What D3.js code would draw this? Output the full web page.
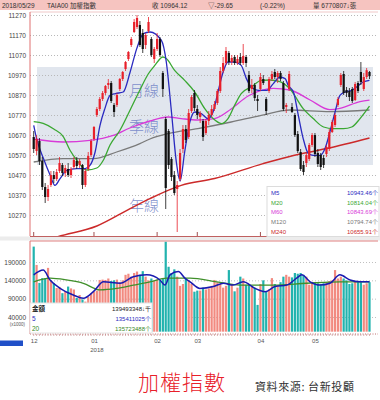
<!DOCTYPE html>
<html lang="zh-Hant">
<head>
<meta charset="UTF-8">
<script src="https://d3js.org/d3.v7.min.js"></script>
<title>加權指數</title>
<style>
  body { margin: 0; background: #fff; }
  svg { display: block; }
  text { font-family: "Liberation Sans", "Noto Sans CJK TC", sans-serif; }
  .cjk { font-family: "Noto Sans CJK TC", sans-serif; }
</style>
</head>
<body>
<div id="chart"></div>
<script>
// ---- data ----
const priceTicks = [11270, 11170, 11070, 10970, 10870, 10770, 10670, 10570, 10470, 10370, 10270];
const volTicks = [190000, 140000, 90000, 40000];
const monthStarts = [0, 21, 43, 57, 79, 98];
const monthLabels = ["12", "01", "02", "03", "04", "05"];

// daily candles 2017/12/01 .. 2018/05/29
const open = [10660,10590,10640,10540,10410,10360,10420,10470,10450,10490,10520,10480,10500,10470,10510,10540,10520,10520,10420,10500,10570,
  10650,10770,10800,10850,10880,10920,10930,10820,10820,10900,10950,11000,11050,11120,11185,11210,11220,11180,11120,11190,11150,11050,
  11100,11150,10980,10750,10690,10550,10470,10400,10450,10600,10700,10660,10790,10880,
  10800,10760,10740,10680,10740,10770,10800,10830,10890,10990,11030,11080,11035,11060,11030,11060,11030,11060,10970,10900,10920,10850,
  10900,10950,10850,10890,10950,10985,10960,10980,10930,10810,10900,10810,10770,10675,10585,10520,10530,10550,10620,
  10670,10580,10570,10555,10575,10600,10685,10720,10820,10920,10975,10895,10890,10900,10845,10930,10985,10900,10960,10985];
const high = [10690,10670,10655,10560,10430,10420,10490,10490,10500,10560,10530,10520,10530,10510,10560,10560,10550,10525,10500,10585,10650,
  10715,10810,10860,10890,10920,10950,10940,10830,10880,10955,10990,11040,11090,11160,11250,11270,11240,11200,11180,11260,11160,11110,
  11180,11160,10990,10760,10700,10560,10490,10440,10600,10720,10720,10800,10870,10895,
  10820,10790,10750,10750,10790,10820,10840,10900,11010,11060,11110,11090,11070,11070,11070,11080,11125,11070,10990,10950,10930,10870,
  10980,10970,10860,10960,10990,11000,10990,10990,10940,10830,10990,10830,10780,10690,10600,10540,10580,10630,10680,
  10680,10600,10580,10570,10620,10700,10745,10780,10860,10980,10990,10910,10905,10910,10935,10940,11035,10980,11005,10990];
const low = [10580,10570,10520,10395,10330,10340,10410,10430,10440,10480,10465,10460,10460,10455,10500,10500,10505,10400,10410,10490,10560,
  10640,10760,10790,10840,10870,10900,10830,10760,10810,10890,10940,10990,11040,11110,11180,11200,11110,11080,11100,11180,11060,11030,
  11090,11060,10860,10300,10500,10440,10370,10185,10440,10580,10630,10650,10780,10790,
  10750,10730,10640,10670,10720,10760,10790,10820,10880,10980,11020,11020,11020,11020,11020,11020,11020,11010,10880,10880,10840,10790,
  10890,10920,10770,10880,10940,10950,10930,10940,10790,10780,10890,10780,10660,10580,10490,10470,10510,10540,10610,
  10560,10510,10495,10505,10560,10590,10680,10710,10810,10910,10870,10860,10840,10830,10840,10880,10920,10890,10950,10950];
const close = [10600,10650,10540,10410,10360,10400,10470,10450,10485,10530,10480,10505,10470,10500,10545,10515,10540,10420,10490,10565,10640,
  10710,10800,10850,10880,10915,10930,10840,10785,10870,10950,10985,11035,11085,11150,11235,11255,11120,11100,11170,11235,11070,11100,
  11150,11070,10900,10405,10520,10460,10380,10420,10580,10700,10645,10780,10860,10805,
  10770,10780,10660,10740,10770,10800,10825,10890,10990,11030,11090,11035,11055,11030,11050,11030,11065,11030,10890,10920,10855,10840,
  10960,10930,10790,10950,10975,10960,10980,10950,10800,10820,10975,10785,10670,10590,10500,10485,10570,10620,10670,
  10575,10525,10510,10520,10610,10685,10735,10770,10850,10970,10880,10880,10860,10840,10925,10890,10935,10960,10994,10964.12];

// daily volume, (x1000)
const volume = [232000,182000,133000,146000,146000,174000,140000,133000,119000,122000,105000,110000,123000,118000,115000,92000,100000,88000,82000,95000,105000,
  109000,112000,141000,142000,141000,145000,138000,140000,142000,135000,140000,155000,158000,150000,160000,164000,155000,165000,150000,140000,145000,138000,
  142000,140000,145000,245000,177000,160000,170000,150000,125000,130000,145000,140000,130000,109000,
  112000,112000,120000,115000,118000,125000,141000,135000,130000,120000,125000,168000,130000,110000,120000,150000,145000,128000,130000,122000,120000,73000,
  130000,140000,110000,115000,146000,130000,125000,135000,150000,155000,150000,148000,160000,158000,160000,155000,150000,128000,135000,
  135000,132000,130000,132000,135000,138000,140000,168000,145000,150000,145000,140000,130000,132000,137000,138000,135000,128000,132000,135000];

// moving averages, [day index, value] read at points along each curve
const ma5 = [[0,10718],[1,10652],[3.4,10552],[5.7,10470],[7.4,10418],[9.2,10452],[11.5,10493],[15,10502],[17.9,10502],[19.6,10518],[21.4,10585],[23.1,10718],
  [24.8,10802],[26.6,10868],[28.5,10877],[31.2,10885],[33.6,10985],[35.9,11102],[38.2,11177],[40.5,11185],[44.5,11143],[46.2,11035],[48,10785],[49.7,10535],
  [51,10440],[52.6,10585],[54.4,10735],[56.1,10785],[58.4,10777],[60.7,10752],[62.5,10785],[64.2,10885],[66,10985],[67.7,11035],[70,11035],[72.3,11018],
  [74.1,10952],[75.8,10910],[78.2,10893],[81.2,10893],[83.5,10927],[85.8,10960],[87.6,10952],[88.7,10918],[90.5,10885],[92.2,10768],[93.9,10652],
  [95.7,10577],[97.4,10568],[99.8,10568],[101.5,10602],[103.2,10685],[105,10785],[106.7,10868],[108.5,10885],[110.8,10893],[112.5,10910],[114.8,10935],[117,10943]];
const ma20 = [[0,10737],[3.3,10728],[7,10700],[10.3,10662],[12.6,10595],[15,10545],[18.5,10495],[22,10505],[24.3,10545],[26.6,10620],[30.1,10695],[33.6,10795],
  [37,10895],[39.9,10975],[42.2,11018],[45,11060],[46.2,11052],[49.1,10993],[52.6,10943],[56.1,10885],[59.6,10802],[62.5,10752],[65.4,10727],[67.7,10752],
  [70,10818],[72.3,10877],[75.8,10910],[79.3,10943],[82.4,10945],[85.8,10937],[89.3,10900],[93.9,10802],[97.4,10752],[101,10710],[104.4,10702],[107.9,10702],
  [110.8,10710],[113.7,10752],[117,10814]];
const ma60 = [[0,10650],[10.3,10635],[19.6,10643],[27.7,10668],[33.5,10705],[40.5,10740],[46.8,10760],[51.4,10752],[57.2,10745],[63,10752],[68.8,10800],
  [74.7,10865],[79.3,10893],[83.5,10903],[89.3,10895],[96.3,10845],[103.2,10797],[106.7,10803],[113.7,10837],[117,10844]];
const ma120 = [[0,10535],[10.3,10552],[20.8,10552],[28.9,10585],[37,10627],[40.5,10650],[46.8,10677],[57.2,10702],[68.8,10735],[79.3,10768],[89.3,10795],
  [103.2,10787],[117,10795]];
const ma240 = [[0,10120],[8.1,10160],[22,10215],[33.6,10302],[40.5,10352],[51.4,10418],[63,10452],[79.9,10527],[90.5,10568],[102.1,10602],[117,10655]];

const volMa5 = [[0,155000],[3.3,168000],[5.7,141000],[9.2,118000],[13.8,100000],[17.3,91000],[20.8,109000],[24.3,136000],[30.1,132000],[34.7,150000],
  [39.4,155000],[44,141000],[45.7,127000],[47.5,155000],[50.4,164000],[52.7,146000],[54.5,136000],[57.9,118000],[62.6,123000],[66.1,132000],[69.5,127000],
  [73,136000],[77.1,118000],[80.6,109000],[84.1,123000],[88.2,127000],[91.6,146000],[93.4,155000],[96.3,136000],[99.8,127000],[103.2,132000],[106.7,155000],
  [110.2,141000],[113.7,136000],[117,136000]];
const volMa20 = [[0,136000],[5.7,146000],[11.5,141000],[17.3,132000],[23.1,114000],[28.9,118000],[34.7,127000],[40.5,136000],[46.3,146000],[54.5,146000],
  [63.8,136000],[71.9,127000],[83.5,127000],[95.1,132000],[106.7,136000],[117,136000]];

const header = ["2018/05/29", "TAIA00 加權指數", "收 10964.12", "▽-29.65", "(-0.22%)", "量 6770807↓張"];
const maNames = ["M5", "M20", "M60", "M120", "M240"];
const maValues = ["10943.46个", "10814.04个", "10843.69个", "10794.74个", "10655.91个"];
const volNames = ["金額", "5", "20"];
const volValues = ["139493348↓千", "135411025个", "135723488个"];

// ---- drawing ----
const width = 380;
const height = 400;
const RED = "#e8202a", UP_VOL = "#f28a80", DN_VOL = "#22b3ae";
const maColors = ["#2a2ac0", "#3aa832", "#d83ad8", "#7a7a7a", "#cc2a2a"];

const svg = d3.select("#chart").append("svg")
    .attr("width", width)
    .attr("height", height);

const x = d3.scaleLinear().domain([0, 117]).range([33.7, 369.5]);
const y = d3.scaleLinear().domain([10270, 11270]).range([215, 15]);
const yv = d3.scaleLinear().domain([40000, 190000]).range([317, 262]);
const days = d3.range(close.length);
const up = i => close[i] >= open[i];

// header strip
svg.append("rect").attr("x", 0).attr("y", 0).attr("width", width).attr("height", 10).attr("fill", "#f6c4c0");
const headerX = [2, 47, 152, 208, 260, 313];
svg.selectAll("text.hd").data(header).join("text")
    .attr("x", (d, i) => headerX[i]).attr("y", 7.5)
    .attr("font-size", 6.5).attr("fill", "#333")
    .text(d => d);

// clip areas
const defs = svg.append("defs");
defs.append("clipPath").attr("id", "mainClip").append("rect")
    .attr("x", 30).attr("y", 12).attr("width", 348).attr("height", 224);
defs.append("clipPath").attr("id", "volClip").append("rect")
    .attr("x", 30).attr("y", 241).attr("width", 348).attr("height", 93);

// shaded band
svg.append("rect").attr("x", 37).attr("y", 67).attr("width", 336).attr("height", 98)
    .attr("fill", "#e1e6ee");

// price grid + labels
svg.append("g")
    .attr("transform", "translate(30,0)")
    .call(d3.axisRight(y).tickValues(priceTicks).tickSize(346).tickFormat(""))
    .call(g => g.select(".domain").remove())
    .call(g => g.selectAll("line").attr("stroke", "#b8b8b8").attr("stroke-dasharray", "1,2"));
svg.append("g")
    .attr("transform", "translate(30,0)")
    .call(d3.axisLeft(y).tickValues(priceTicks).tickSize(0).tickPadding(4).tickFormat(d3.format("d")))
    .call(g => g.select(".domain").remove())
    .call(g => g.selectAll("text").attr("font-size", 6.5).attr("fill", "#444"));

// panel frames
svg.append("line").attr("x1", 30).attr("x2", 378).attr("y1", 12).attr("y2", 12).attr("stroke", "#f0c8c8");
svg.append("line").attr("x1", 30).attr("x2", 30).attr("y1", 12).attr("y2", 236).attr("stroke", "#e07070");
svg.append("rect").attr("x", 0).attr("y", 236.5).attr("width", width).attr("height", 4).attr("fill", "#ececec");
svg.append("line").attr("x1", 30).attr("x2", 378).attr("y1", 236.5).attr("y2", 236.5).attr("stroke", "#c06060");
svg.append("line").attr("x1", 30).attr("x2", 378).attr("y1", 241).attr("y2", 241).attr("stroke", "#e08080");
svg.append("line").attr("x1", 30).attr("x2", 30).attr("y1", 241).attr("y2", 334).attr("stroke", "#e07070");

// month ticks on main panel
svg.selectAll("line.mt").data(monthStarts).join("line")
    .attr("x1", d => x(d)).attr("x2", d => x(d)).attr("y1", 232).attr("y2", 236)
    .attr("stroke", "#a05050");

// annotations
const notes = [["月線", 90], ["季線", 126], ["年線", 205]];
svg.selectAll("text.note").data(notes).join("text")
    .attr("class", "cjk")
    .attr("x", 129).attr("y", d => d[1] + 6)
    .attr("font-size", 15).attr("font-weight", 300)
    .attr("fill", "#6b7cc4").attr("fill-opacity", 0.85)
    .text(d => d[0]);

// moving average lines
const maLine = d3.line().x(d => x(d[0])).y(d => y(d[1])).curve(d3.curveMonotoneX);
const main = svg.append("g").attr("clip-path", "url(#mainClip)");
[ma240, ma120, ma60, ma20, ma5].forEach((s, k) => {
    main.append("path").datum(s)
        .attr("fill", "none")
        .attr("stroke", maColors[4 - k])
        .attr("stroke-width", k === 0 ? 1.5 : 1.3)
        .attr("d", maLine);
});

// candles
main.selectAll("line.wick").data(days).join("line")
    .attr("x1", i => x(i)).attr("x2", i => x(i))
    .attr("y1", i => y(high[i])).attr("y2", i => y(low[i]))
    .attr("stroke", i => up(i) ? RED : "#111")
    .attr("stroke-width", 0.8);
main.selectAll("rect.body").data(days).join("rect")
    .attr("x", i => x(i) - 1.1).attr("width", 2.2)
    .attr("y", i => y(Math.max(open[i], close[i])))
    .attr("height", i => Math.max(1, Math.abs(y(open[i]) - y(close[i]))))
    .attr("fill", i => up(i) ? RED : "#111");

// MA legend box
const lg = svg.append("g").attr("transform", "translate(267,186.5)");
lg.append("rect").attr("width", 112).attr("height", 50).attr("fill", "#fff").attr("stroke", "#dcdcdc");
lg.selectAll("text.n").data(maNames).join("text")
    .attr("x", 4).attr("y", (d, i) => 8.5 + i * 9.7)
    .attr("font-size", 6).attr("fill", (d, i) => maColors[i]).text(d => d);
lg.selectAll("text.v").data(maValues).join("text")
    .attr("x", 111).attr("y", (d, i) => 8.5 + i * 9.7).attr("text-anchor", "end")
    .attr("font-size", 6).attr("fill", (d, i) => maColors[i]).text(d => d);

// volume grid + labels
svg.append("g")
    .attr("transform", "translate(30,0)")
    .call(d3.axisRight(yv).tickValues(volTicks).tickSize(346).tickFormat(""))
    .call(g => g.select(".domain").remove())
    .call(g => g.selectAll("line").attr("stroke", "#c0c0c0").attr("stroke-dasharray", "1,2"));
svg.append("g")
    .attr("transform", "translate(30,0)")
    .call(d3.axisLeft(yv).tickValues(volTicks).tickSize(0).tickPadding(4).tickFormat(d3.format("d")))
    .call(g => g.select(".domain").remove())
    .call(g => g.selectAll("text").attr("font-size", 6.5).attr("fill", "#444"));
svg.append("text").attr("x", 25).attr("y", 325.5).attr("text-anchor", "end")
    .attr("font-size", 4.5).attr("fill", "#555").text("(x1000)");

// volume bars
const vol = svg.append("g").attr("clip-path", "url(#volClip)");
vol.selectAll("rect").data(days).join("rect")
    .attr("x", i => x(i) - 1.1).attr("width", 2.2)
    .attr("y", i => yv(volume[i]))
    .attr("height", i => yv(0) - yv(volume[i]))
    .attr("fill", i => up(i) ? UP_VOL : DN_VOL);

const vLine = d3.line().x(d => x(d[0])).y(d => yv(d[1])).curve(d3.curveMonotoneX);
vol.append("path").datum(volMa20).attr("fill", "none").attr("stroke", "#3f8f2a").attr("stroke-width", 1.3).attr("d", vLine);
vol.append("path").datum(volMa5).attr("fill", "none").attr("stroke", "#1a1ab0").attr("stroke-width", 1.5).attr("d", vLine);

// bottom of volume panel: dotted base with day ticks
svg.append("line").attr("x1", 30).attr("x2", 378).attr("y1", 334).attr("y2", 334)
    .attr("stroke", "#c07070").attr("stroke-dasharray", "1,1.5");
svg.selectAll("line.dt").data(days).join("line")
    .attr("x1", i => x(i)).attr("x2", i => x(i)).attr("y1", 334).attr("y2", 336)
    .attr("stroke", "#c08080").attr("stroke-width", 0.6);

// volume legend
const vg = svg.append("g").attr("transform", "translate(30,303)");
vg.append("rect").attr("width", 122).attr("height", 30).attr("fill", "#fff").attr("stroke", "#e4e4e4");
const vCols = ["#222", "#2a2ac0", "#3a8a2a"];
vg.selectAll("text.n").data(volNames).join("text")
    .attr("class", (d, i) => i === 0 ? "cjk" : null)
    .attr("x", 2).attr("y", (d, i) => 7.5 + i * 10)
    .attr("font-size", 6.5).attr("font-weight", (d, i) => i === 0 ? 700 : 400)
    .attr("fill", (d, i) => vCols[i]).text(d => d);
vg.selectAll("text.v").data(volValues).join("text")
    .attr("x", 121).attr("y", (d, i) => 7.5 + i * 10).attr("text-anchor", "end")
    .attr("font-size", 6).attr("fill", (d, i) => vCols[i]).text(d => d);

// month axis
svg.append("g")
    .attr("transform", "translate(0,336)")
    .call(d3.axisBottom(x).tickValues(monthStarts).tickSize(0).tickPadding(3).tickFormat((d, i) => monthLabels[i]))
    .call(g => g.select(".domain").remove())
    .call(g => g.selectAll("text").attr("font-size", 6).attr("fill", "#555"));
svg.append("text").attr("x", x(21) + 3).attr("y", 352).attr("text-anchor", "middle")
    .attr("font-size", 6).attr("fill", "#555").text("2018");
svg.append("rect").attr("x", 0).attr("y", 340.5).attr("width", 23).attr("height", 5.5).attr("fill", "#2050c8");

// title and source
svg.append("text").attr("class", "cjk").attr("x", 138).attr("y", 390)
    .attr("font-size", 21).attr("font-weight", 300).attr("fill", RED).attr("letter-spacing", 1)
    .text("加權指數");
svg.append("text").attr("class", "cjk").attr("x", 255).attr("y", 391)
    .attr("font-size", 11).attr("fill", "#333").attr("letter-spacing", 0.6)
    .text("資料來源: 台新投顧");
</script>
</body>
</html>
